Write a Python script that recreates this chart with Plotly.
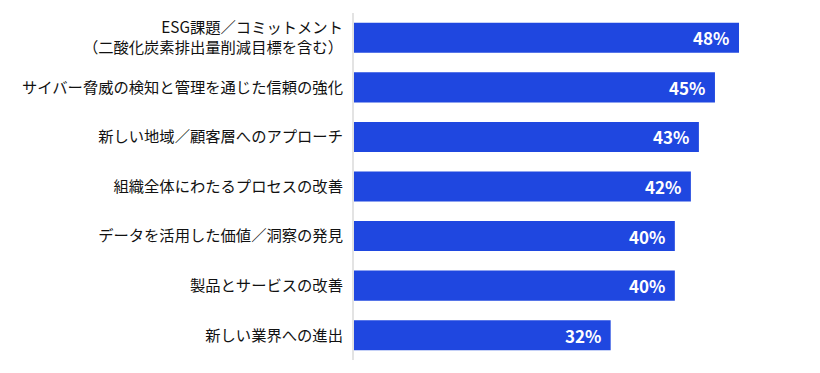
import plotly.graph_objects as go

categories = [
    "ESG課題／コミットメント<br>（二酸化炭素排出量削減目標を含む）",
    "サイバー脅威の検知と管理を通じた信頼の強化",
    "新しい地域／顧客層へのアプローチ",
    "組織全体にわたるプロセスの改善",
    "データを活用した価値／洞察の発見",
    "製品とサービスの改善",
    "新しい業界への進出",
]
values = [48, 45, 43, 42, 40, 40, 32]
value_labels = [f"{v}%" for v in values]

FONT = "Noto Sans CJK JP"
BAR = "#1f47e0"

fig = go.Figure(go.Bar(
    x=values, y=categories, orientation="h",
    marker=dict(color=BAR, line=dict(width=0)),
    width=0.606, hoverinfo="skip",
))

for c, v, t in zip(categories, values, value_labels):
    fig.add_annotation(x=v, y=c, text=t, showarrow=False, xanchor="right",
                       xshift=-8, font=dict(family=FONT, size=17, color="white", weight="bold"))

fig.update_layout(
    width=812, height=365,
    margin=dict(l=346, r=8, t=5, b=13),
    paper_bgcolor="white", plot_bgcolor="white",
    showlegend=False,
    font=dict(family=FONT, size=15.3, color="#111111"),
    xaxis=dict(range=[0, 57.1], visible=False, fixedrange=True),
    yaxis=dict(autorange="reversed", showline=True, linecolor="#e3e3e3", linewidth=2,
               showgrid=False, ticks="", ticklabelstandoff=6, automargin=False,
               tickfont=dict(family=FONT, size=15.3, color="#111111")),
)

fig.write_html("out.html")
